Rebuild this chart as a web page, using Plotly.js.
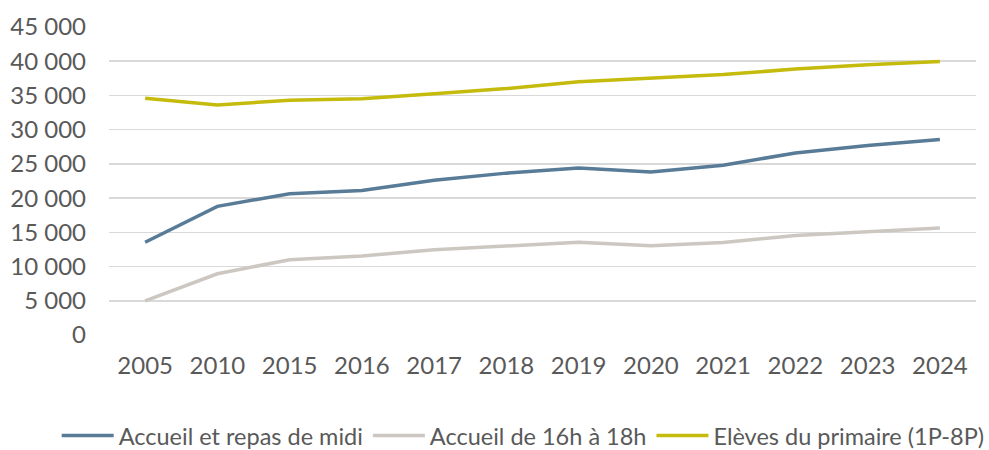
<!DOCTYPE html>
<html>
<head>
<meta charset="utf-8">
<script src="https://cdn.plot.ly/plotly-3.0.1.min.js"></script>
<style>html,body{margin:0;padding:0;background:#fff;}#chart{width:989px;height:450px;}</style>
</head>
<body>
<div id="chart"></div>
<script>
const years = ["2005","2010","2015","2016","2017","2018","2019","2020","2021","2022","2023","2024"];
const accueilMidi = [13550, 18800, 20650, 21100, 22600, 23650, 24400, 23800, 24800, 26600, 27700, 28550];
const accueil16h18h = [5000, 8950, 11000, 11550, 12450, 13050, 13550, 13050, 13500, 14550, 15050, 15650];
const elevesPrimaire = [34600, 33600, 34300, 34500, 35250, 36000, 37000, 37500, 38050, 38850, 39500, 39950];
const seriesNames = ["Accueil et repas de midi", "Accueil de 16h à 18h", "Elèves du primaire (1P-8P)"];
const colors = ["#587b97", "#cdc7c2", "#c5bb0c"];

const allSeries = [accueilMidi, accueil16h18h, elevesPrimaire];
const traces = allSeries.map((vals, i) => ({
  x: years, y: vals, name: seriesNames[i], type: "scatter", mode: "lines",
  line: {color: colors[i], width: 3.5}, hoverinfo: "skip"
}));

const layout = {
  width: 989, height: 450,
  margin: {l: 0, r: 0, t: 27, b: 115},
  paper_bgcolor: "#fff", plot_bgcolor: "rgba(0,0,0,0)",
  separators: ", ",
  font: {family: "Lato, sans-serif", color: "#595959", size: 24},
  xaxis: {
    domain: [109 / 989, 976 / 989],
    type: "category", range: [-0.5, 11.5], showgrid: false, zeroline: false,
    showline: false, ticks: "", ticklabelstandoff: 14, automargin: false,
    tickfont: {family: "Lato", size: 24, color: "#595959"}
  },
  yaxis: {
    range: [0, 45000], dtick: 5000, tick0: 0, tickformat: ",d",
    showgrid: true, gridcolor: "#d9d9d9", gridwidth: 1.5, zeroline: false,
    showline: false, ticks: "", ticklabelstandoff: 22, automargin: false,
    tickfont: {family: "Lato", size: 24, color: "#595959"}
  },
  showlegend: true,
  legend: {
    orientation: "h", xref: "container", yref: "container",
    x: 0.529, xanchor: "center", y: 0.032, yanchor: "middle",
    font: {family: "Lato", size: 23.5, color: "#595959"},
    itemwidth: 52, tracegroupgap: 0, traceorder: "normal", bgcolor: "rgba(0,0,0,0)"
  }
};

Plotly.newPlot("chart", traces, layout, {displayModeBar: false, staticPlot: true});
</script>
</body>
</html>
